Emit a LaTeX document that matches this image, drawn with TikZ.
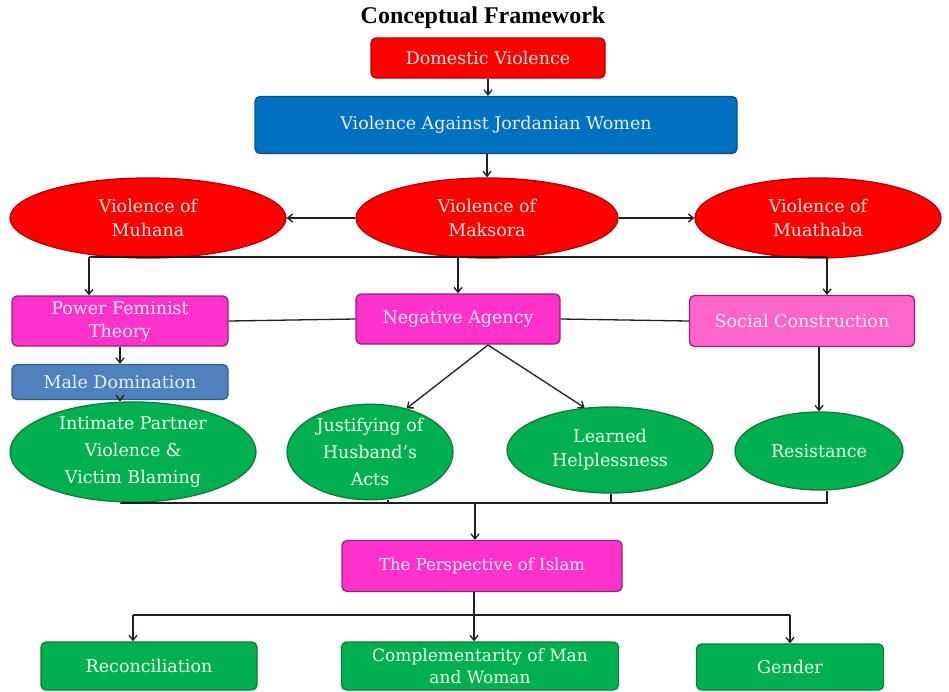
\documentclass[tikz,border=0pt]{standalone}
\usepackage{fontspec}
\setmainfont{DejaVu Serif}
\newfontfamily\titlefont{Liberation Serif}
\usetikzlibrary{shapes.geometric,arrows.meta}
\definecolor{cred}{HTML}{FF0000}
\definecolor{credd}{HTML}{B00000}
\definecolor{cblue}{HTML}{0070C0}
\definecolor{cblued}{HTML}{005090}
\definecolor{cmag}{HTML}{FF33CC}
\definecolor{cmagd}{HTML}{9A1F7A}
\definecolor{cpink}{HTML}{FF66CC}
\definecolor{csteel}{HTML}{4F81BD}
\definecolor{csteeld}{HTML}{385D8A}
\definecolor{cgreen}{HTML}{00B050}
\definecolor{cgreend}{HTML}{127A3C}
\definecolor{tred}{HTML}{FFE0DC}
\definecolor{tblue}{HTML}{E6F2FF}
\definecolor{tmag}{HTML}{FFE8F6}
\definecolor{tgreen}{HTML}{E8FFEC}
\definecolor{cline}{HTML}{202020}
\tikzset{
  base/.style={font=\fontsize{17.5}{24}\selectfont, align=center, line width=1.3pt, inner sep=2pt},
  rbox/.style={base, rectangle, rounded corners=5pt},
  oval/.style={base, ellipse, inner sep=0pt},
  redbox/.style={rbox, fill=cred, draw=credd, text=tred},
  bluebox/.style={rbox, fill=cblue, draw=cblued, text=tblue},
  magbox/.style={rbox, fill=cmag, draw=cmagd, text=tmag},
  pinkbox/.style={rbox, fill=cpink, draw=cmagd, text=tmag},
  steelbox/.style={rbox, fill=csteel, draw=csteeld, text=tblue},
  greenbox/.style={rbox, fill=cgreen, draw=cgreend, text=tgreen},
  redoval/.style={oval, fill=cred, draw=credd, text=tred},
  greenoval/.style={oval, fill=cgreen, draw=cgreend, text=tgreen},
  conn/.style={draw=cline, line width=1.3pt},
  arr/.style={conn, -{Straight Barb[length=5pt,width=8pt]}},
  titletext/.style={font=\titlefont\bfseries\fontsize{24}{26}\selectfont, inner sep=0pt}
}
\begin{document}
\begin{tikzpicture}[x=1pt,y=-1pt]
\useasboundingbox (0,0) rectangle (949,691);
\fill[white] (0,0) rectangle (949,691);

\node[titletext] (title) at (483,18) {Conceptual Framework};
\node[redbox, minimum width=234pt, minimum height=40pt] (dv) at (488,58) {Domestic Violence};
\node[bluebox, minimum width=482pt, minimum height=57pt] (vaj) at (496,125) {Violence Against Jordanian Women};

\node[redoval, minimum width=276pt, minimum height=80pt] (muh) at (148,218) {Violence of\\Muhana};
\node[redoval, minimum width=262pt, minimum height=80pt] (mak) at (487,218) {Violence of\\Maksora};
\node[redoval, minimum width=246pt, minimum height=80pt] (mua) at (818,218) {Violence of\\Muathaba};

\node[magbox, minimum width=216pt, minimum height=50pt, font=\fontsize{17.5}{23}\selectfont] (pft) at (120,321) {Power Feminist\\Theory};
\node[magbox, minimum width=204pt, minimum height=50pt] (na) at (458,319) {Negative Agency};
\node[pinkbox, minimum width=225pt, minimum height=51pt] (sc) at (802,321) {Social Construction};
\node[steelbox, minimum width=216pt, minimum height=35pt] (md) at (120,382) {Male Domination};

\node[greenoval, minimum width=246pt, minimum height=79pt, font=\fontsize{17.5}{27}\selectfont] (ipv) at (133,452) {Intimate Partner\\Violence \&\\Victim Blaming};
\node[greenoval, minimum width=166pt, minimum height=79pt, font=\fontsize{17.5}{27}\selectfont] (jh) at (370,452) {Justifying of\\Husband's\\Acts};
\node[greenoval, minimum width=206pt, minimum height=86pt] (lh) at (610,450) {Learned\\Helplessness};
\node[greenoval, minimum width=168pt, minimum height=78pt] (res) at (819,451) {Resistance};

\node[magbox, minimum width=280pt, minimum height=51pt, font=\fontsize{16.5}{22}\selectfont] (pi) at (482,566) {The Perspective of Islam};
\node[greenbox, minimum width=216pt, minimum height=48pt] (rec) at (149,666) {Reconciliation};
\node[greenbox, minimum width=277pt, minimum height=48pt, font=\fontsize{17}{22}\selectfont] (comp) at (480,666) {Complementarity of Man\\and Woman};
\node[greenbox, minimum width=187pt, minimum height=46pt] (gen) at (790,667) {Gender};

% top chain
\draw[arr] (dv.south) -- (dv.south |- vaj.north);
\draw[arr] (vaj.south -| mak.north) -- (mak.north);
\draw[arr] (mak.west) -- (muh.east);
\draw[arr] (mak.east) -- (mua.west);

% bus below ellipses
\coordinate (busL) at (89,257);
\coordinate (busM) at (458,257);
\coordinate (busR) at (827,257);
\draw[conn] (busL) -- (busR);
\draw[arr] (busL) -- (busL |- pft.north);
\draw[arr] (busM) -- (na.north);
\draw[arr] (busR) -- (busR |- sc.north);

% middle row
\draw[conn] (pft.east) -- (na.west);
\draw[conn] (na.east) -- (sc.west);
\draw[arr] (pft.south) -- (md.north);
\draw[arr] (md.south) -- (md.south |- ipv.north);
\coordinate (nsplit) at (488,345);
\draw[arr] (nsplit) -- (jh.50);
\draw[arr] (nsplit) -- (lh.121);
\draw[arr] (res.north |- sc.south) -- (res.north);

% bottom bus
\coordinate (b1) at (121,503);
\coordinate (b2) at (388,503);
\coordinate (b3) at (611,503);
\coordinate (b4) at (827,503);
\coordinate (bm) at (475,503);
\draw[conn] (b1 |- ipv.south) -- (b1) -- (b4) -- (b4 |- res.south);
\draw[conn] (b2 |- jh.south) -- (b2);
\draw[conn] (b3 |- lh.south) -- (b3);
\draw[arr] (bm) -- (bm |- pi.north);

% islam bus
\coordinate (c1) at (133,615);
\coordinate (c2) at (474,615);
\coordinate (c3) at (790,615);
\draw[conn] (c2 |- pi.south) -- (c2);
\draw[conn] (c1) -- (c3);
\draw[arr] (c1) -- (c1 |- rec.north);
\draw[arr] (c2) -- (c2 |- comp.north);
\draw[arr] (c3) -- (gen.north);
\end{tikzpicture}
\end{document}
